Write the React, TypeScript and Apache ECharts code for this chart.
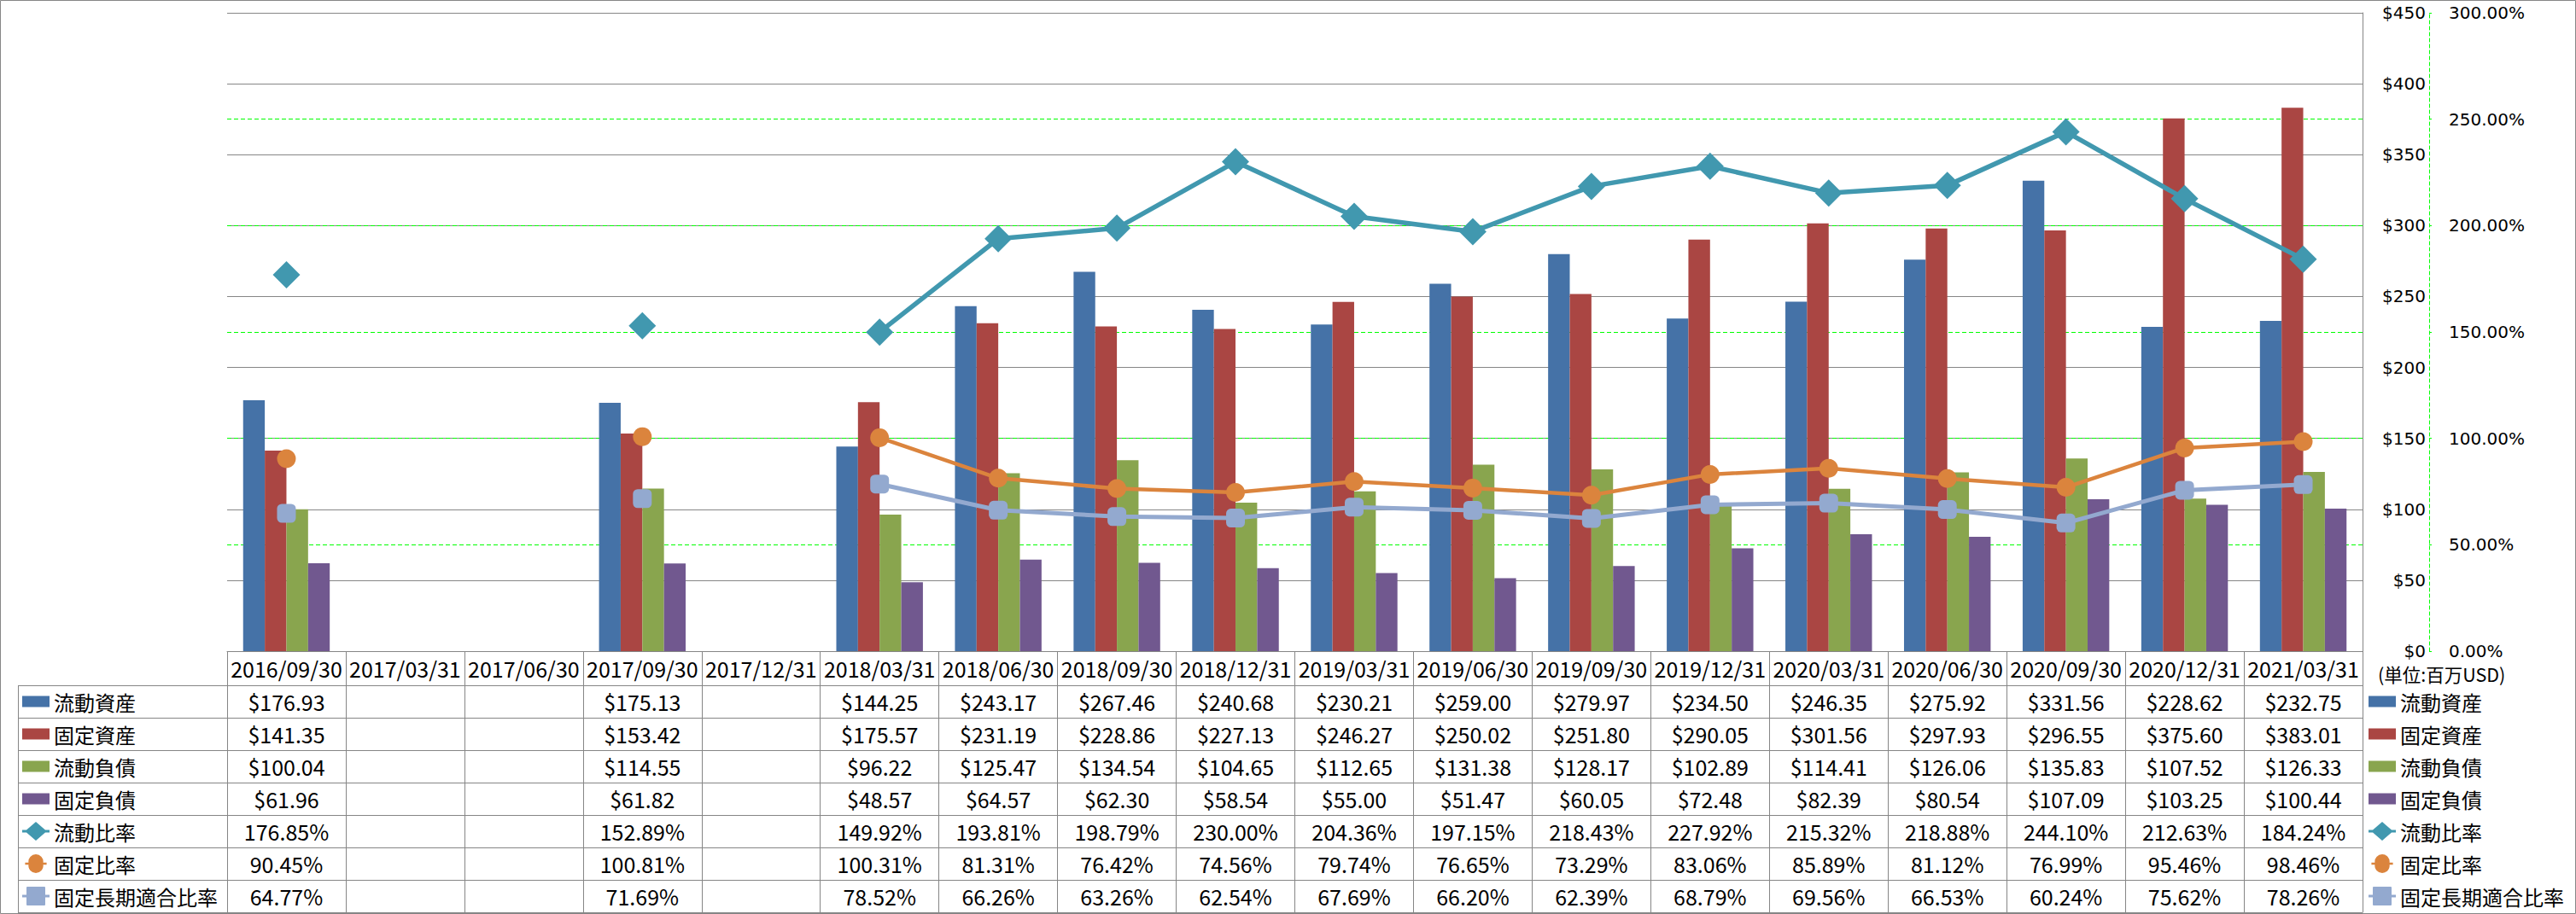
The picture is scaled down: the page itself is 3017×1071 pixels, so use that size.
import React, { useEffect, useRef } from 'react';
import * as echarts from 'echarts';

// ---------- data ----------
const categories = [
  '2016/09/30', '2017/03/31', '2017/06/30', '2017/09/30', '2017/12/31', '2018/03/31',
  '2018/06/30', '2018/09/30', '2018/12/31', '2019/03/31', '2019/06/30', '2019/09/30',
  '2019/12/31', '2020/03/31', '2020/06/30', '2020/09/30', '2020/12/31', '2021/03/31',
];
const currentAssets = [176.93, null, null, 175.13, null, 144.25, 243.17, 267.46, 240.68, 230.21, 259.0, 279.97, 234.5, 246.35, 275.92, 331.56, 228.62, 232.75];
const fixedAssets = [141.35, null, null, 153.42, null, 175.57, 231.19, 228.86, 227.13, 246.27, 250.02, 251.8, 290.05, 301.56, 297.93, 296.55, 375.6, 383.01];
const currentLiabilities = [100.04, null, null, 114.55, null, 96.22, 125.47, 134.54, 104.65, 112.65, 131.38, 128.17, 102.89, 114.41, 126.06, 135.83, 107.52, 126.33];
const fixedLiabilities = [61.96, null, null, 61.82, null, 48.57, 64.57, 62.3, 58.54, 55.0, 51.47, 60.05, 72.48, 82.39, 80.54, 107.09, 103.25, 100.44];
const currentRatio = [176.85, null, null, 152.89, null, 149.92, 193.81, 198.79, 230.0, 204.36, 197.15, 218.43, 227.92, 215.32, 218.88, 244.1, 212.63, 184.24];
const fixedRatio = [90.45, null, null, 100.81, null, 100.31, 81.31, 76.42, 74.56, 79.74, 76.65, 73.29, 83.06, 85.89, 81.12, 76.99, 95.46, 98.46];
const longTermFitRatio = [64.77, null, null, 71.69, null, 78.52, 66.26, 63.26, 62.54, 67.69, 66.2, 62.39, 68.79, 69.56, 66.53, 60.24, 75.62, 78.26];

const seriesNames = ['流動資産', '固定資産', '流動負債', '固定負債', '流動比率', '固定比率', '固定長期適合比率'];
const unitLabel = '(単位:百万USD)';

const dollarAxis = { min: 0, max: 450, interval: 50 };
const percentAxis = { min: 0, max: 300, interval: 50 };

// ---------- style ----------
const COLORS = ['#4572A7', '#AA4643', '#89A54E', '#71588F', '#4198AF', '#DB843D', '#93A9CF'];
const GRAY = '#868686';
const GREEN = '#00FF00';
const CJK = '"Noto Sans CJK JP", sans-serif';
const AXISFONT = '"DejaVu Sans", Verdana, sans-serif';

const W = 3017;
const H = 1071;
const PLOT_LEFT = 266;
const PLOT_RIGHT = 2767;
const PLOT_TOP = 15;
const PLOT_BOTTOM = 763;
const ROW_OFFSETS = [0, 40, 78, 116, 154, 192, 230, 268, 306];

const ICONS = [
  'path://M0,0H32V13H0Z',
  'path://M0,0H32V13H0Z',
  'path://M0,0H32V13H0Z',
  'path://M0,0H32V13H0Z',
  'path://M0,9.5H5L16,0L27,9.5H32V12.5H27L16,22L5,12.5H0Z',
  'path://M0,9.5H5.1A11,11,0,1,1,26.9,9.5H32V12.5H26.9A11,11,0,1,1,5.1,12.5H0Z',
  'path://M0,9.5H5V1Q5,0,6,0H26Q27,0,27,1V9.5H32V12.5H27V21Q27,22,26,22H6Q5,22,5,21V12.5H0Z',
];

const fmtDollar = (v: number | null) => (v == null ? '' : '$' + v.toFixed(2));
const fmtPct = (v: number | null) => (v == null ? '' : v.toFixed(2) + '%');

const tableRows = [
  currentAssets.map(fmtDollar),
  fixedAssets.map(fmtDollar),
  currentLiabilities.map(fmtDollar),
  fixedLiabilities.map(fmtDollar),
  currentRatio.map(fmtPct),
  fixedRatio.map(fmtPct),
  longTermFitRatio.map(fmtPct),
];

function tableAxis(data: string[], offset: number, tickLen: number, margin: number, showLabel = true, showTick = true) {
  return {
    type: 'category',
    gridIndex: 0,
    position: 'bottom',
    offset,
    data,
    boundaryGap: true,
    silent: true,
    axisLine: { show: true, onZero: false, lineStyle: { color: GRAY, width: 1 } },
    axisTick: { show: showTick, interval: 0, length: tickLen, inside: false, lineStyle: { color: GRAY, width: 1 } },
    axisLabel: {
      show: showLabel,
      interval: 0,
      margin,
      fontSize: 25,
      lineHeight: 25,
      fontFamily: CJK,
      color: '#000',
    },
    splitLine: { show: false },
  };
}

export default function App() {
  const ref = useRef<HTMLDivElement>(null);

  useEffect(() => {
    if (!ref.current) return;
    const chart = echarts.init(ref.current, undefined, { renderer: 'svg' });

    const barData = [currentAssets, fixedAssets, currentLiabilities, fixedLiabilities];
    const lineData = [currentRatio, fixedRatio, longTermFitRatio];
    const lineSymbols = ['diamond', 'circle', 'roundRect'];
    const lineSymbolSizes = [32, 22, 22];
    const lineWidths = [5.5, 4.5, 5];

    const xAxes: any[] = [tableAxis(categories, ROW_OFFSETS[0], ROW_OFFSETS[1] - ROW_OFFSETS[0], 7.5)];
    tableRows.forEach((row, i) => {
      xAxes.push(tableAxis(row, ROW_OFFSETS[i + 1], ROW_OFFSETS[i + 2] - ROW_OFFSETS[i + 1], 6.5));
    });
    xAxes.push(tableAxis(categories, ROW_OFFSETS[8], 0, 0, false, false));

    const legendCommon = {
      orient: 'vertical',
      itemWidth: 32,
      itemHeight: 22,
      itemGap: 0,
      padding: 0,
      selectedMode: false,
      symbolKeepAspect: true,
      itemStyle: { borderWidth: 0 },
      textStyle: { fontSize: 24, lineHeight: 38, fontFamily: CJK, color: '#000' },
      data: seriesNames.map((n, i) => ({ name: n, icon: ICONS[i] })),
    };

    const rowLineYs = ROW_OFFSETS.slice(1).map((o) => PLOT_BOTTOM + o);
    const graphics: any[] = [
      {
        type: 'rect',
        silent: true,
        shape: { x: 0.5, y: 0.5, width: W - 1, height: H - 1 },
        style: { fill: 'none', stroke: GRAY, lineWidth: 1 },
      },
      {
        type: 'line',
        silent: true,
        shape: { x1: 21.5, y1: rowLineYs[0], x2: 21.5, y2: rowLineYs[rowLineYs.length - 1] },
        style: { stroke: GRAY, lineWidth: 1 },
      },
      ...rowLineYs.map((y) => ({
        type: 'line',
        silent: true,
        shape: { x1: 21, y1: y + 0.5, x2: PLOT_LEFT, y2: y + 0.5 },
        style: { stroke: GRAY, lineWidth: 1 },
      })),
      {
        type: 'text',
        silent: true,
        left: 2785,
        top: 779,
        style: { text: unitLabel, fontSize: 21.5, fontFamily: CJK, fill: '#000' },
      },
    ];

    const option: any = {
      animation: false,
      backgroundColor: '#fff',
      grid: {
        left: PLOT_LEFT,
        right: W - PLOT_RIGHT,
        top: PLOT_TOP,
        bottom: H - PLOT_BOTTOM,
        containLabel: false,
      },
      legend: [
        { ...legendCommon, left: 26, top: PLOT_BOTTOM + ROW_OFFSETS[1] },
        { ...legendCommon, left: 2774, top: PLOT_BOTTOM + ROW_OFFSETS[1] },
      ],
      xAxis: xAxes,
      yAxis: [
        {
          type: 'value',
          position: 'right',
          ...dollarAxis,
          axisLine: { show: true, lineStyle: { color: GRAY, width: 1 } },
          axisTick: { show: false },
          axisLabel: {
            formatter: (v: number) => '$' + v,
            align: 'right',
            margin: 74,
            fontSize: 20,
            fontFamily: AXISFONT,
            color: '#000',
          },
          splitLine: { show: true, lineStyle: { color: GRAY, width: 1 } },
        },
        {
          type: 'value',
          position: 'right',
          offset: 78,
          ...percentAxis,
          axisLine: { show: true, lineStyle: { color: GREEN, width: 1, type: [4, 3] } },
          axisTick: { show: true, inside: false, length: 3, lineStyle: { color: GREEN, width: 1 } },
          axisLabel: {
            formatter: (v: number) => v.toFixed(2) + '%',
            margin: 23,
            fontSize: 20,
            fontFamily: AXISFONT,
            color: '#000',
          },
          splitLine: {
            show: true,
            showMinLine: false,
            showMaxLine: false,
            lineStyle: { color: GREEN, width: 1, type: [5, 3] },
          },
        },
      ],
      series: [
        ...barData.map((d, i) => ({
          name: seriesNames[i],
          type: 'bar',
          xAxisIndex: 0,
          yAxisIndex: 0,
          data: d,
          barGap: '0%',
          barCategoryGap: '27%',
          itemStyle: { color: COLORS[i] },
        })),
        ...lineData.map((d, j) => ({
          name: seriesNames[4 + j],
          type: 'line',
          xAxisIndex: 0,
          yAxisIndex: 1,
          data: d,
          connectNulls: false,
          showSymbol: true,
          showAllSymbol: true,
          symbol: lineSymbols[j],
          symbolSize: lineSymbolSizes[j],
          lineStyle: { color: COLORS[4 + j], width: lineWidths[j] },
          itemStyle: { color: COLORS[4 + j] },
          z: 3 + j,
        })),
      ],
      graphic: graphics,
    };

    chart.setOption(option);
    return () => chart.dispose();
  }, []);

  return (
    <div
      ref={ref}
      style={{ position: 'absolute', left: 0, top: 0, width: W, height: H }}
    />
  );
}
